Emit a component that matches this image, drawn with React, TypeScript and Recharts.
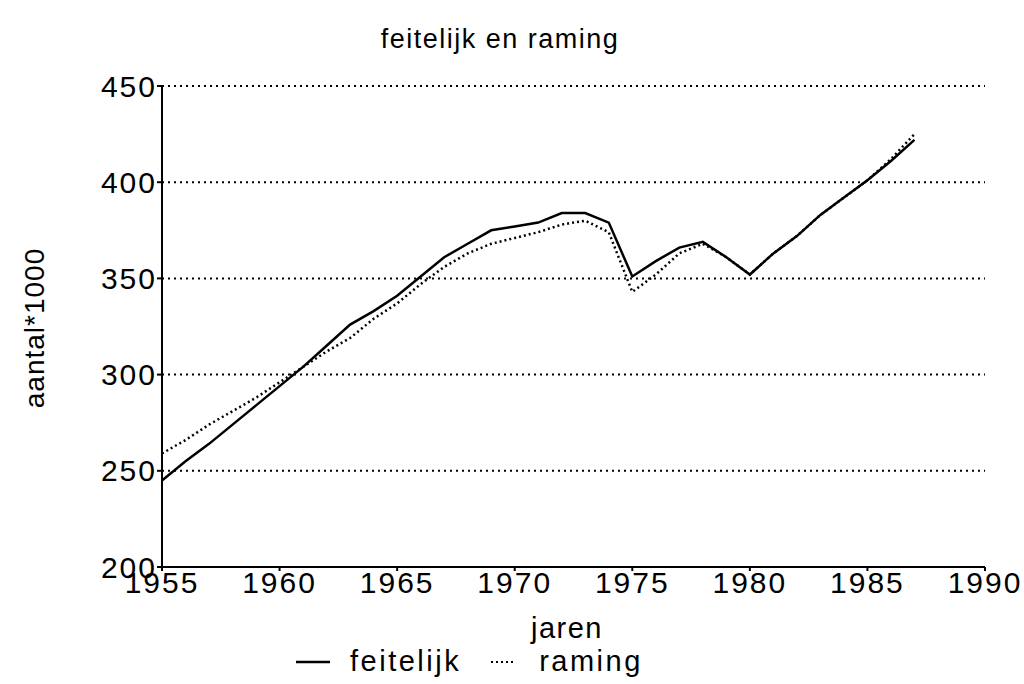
import { LineChart, Line, XAxis, YAxis, CartesianGrid } from 'recharts';

const years = [
	1955, 1956, 1957, 1958, 1959, 1960, 1961, 1962, 1963, 1964, 1965,
	1966, 1967, 1968, 1969, 1970, 1971, 1972, 1973, 1974, 1975, 1976,
	1977, 1978, 1979, 1980, 1981, 1982, 1983, 1984, 1985, 1986, 1987,
];

const feitelijk = [
	245, 255, 264, 274, 284, 294, 304, 315, 326, 333, 341,
	351, 361, 368, 375, 377, 379, 384, 384, 379, 351, 359,
	366, 369, 361, 352, 363, 372, 383, 392, 401, 411, 422,
];

const raming = [
	259, 266, 274, 281, 288, 296, 304, 312, 319, 329, 337,
	347, 356, 363, 368, 371, 374, 378, 380, 374, 343, 352,
	363, 368, 361, 352, 363, 372, 383, 392, 401, 412, 425,
];

const xTicks = [1955, 1960, 1965, 1970, 1975, 1980, 1985, 1990];
const yTicks = [200, 250, 300, 350, 400, 450];

const data = years.map((jaar, i) => ({
	jaar,
	feitelijk: feitelijk[i],
	raming: raming[i],
}));

const font = '"Liberation Sans", Arial, sans-serif';
const tickStyle = { fontSize: 30, fill: '#000', fontFamily: font, letterSpacing: 2 };

const App = () => {
	return (
		<div
			style={{
				position: 'absolute',
				left: 0,
				top: 0,
				width: 1024,
				height: 684,
				background: '#fff',
				fontFamily: font,
				color: '#000',
			}}
		>
			<div
				style={{
					position: 'absolute',
					left: 0,
					width: 1000,
					top: 24,
					textAlign: 'center',
					fontSize: 27,
					letterSpacing: 1.5,
				}}
			>
				feitelijk en raming
			</div>

			<LineChart
				width={1024}
				height={684}
				data={data}
				margin={{ top: 86, right: 39, bottom: 87, left: 0 }}
			>
				<CartesianGrid
					vertical={false}
					stroke="#000"
					strokeWidth={2}
					strokeDasharray="2 4"
				/>
				<XAxis
					dataKey="jaar"
					type="number"
					domain={[1955, 1990]}
					ticks={xTicks}
					interval={0}
					height={30}
					stroke="#000"
					strokeWidth={2}
					tickSize={4}
					tickMargin={1}
					tick={tickStyle}
				/>
				<YAxis
					type="number"
					domain={[200, 450]}
					ticks={yTicks}
					interval={0}
					width={162}
					stroke="#000"
					strokeWidth={2}
					tickSize={5}
					tickMargin={0}
					tick={tickStyle}
				/>
				<Line
					type="linear"
					dataKey="feitelijk"
					stroke="#000"
					strokeWidth={2.5}
					dot={false}
					isAnimationActive={false}
				/>
				<Line
					type="linear"
					dataKey="raming"
					stroke="#000"
					strokeWidth={2.5}
					strokeDasharray="2 3"
					dot={false}
					isAnimationActive={false}
				/>
			</LineChart>

			<div
				style={{
					position: 'absolute',
					left: 35 - 120,
					top: 330 - 18,
					width: 240,
					textAlign: 'center',
					fontSize: 28,
					letterSpacing: 1,
					transform: 'rotate(-90deg)',
				}}
			>
				aantal*1000
			</div>

			<div
				style={{
					position: 'absolute',
					left: 467,
					width: 200,
					top: 612,
					textAlign: 'center',
					fontSize: 29,
					letterSpacing: 1.5,
				}}
			>
				jaren
			</div>

			<div
				style={{
					position: 'absolute',
					left: 296,
					top: 645,
					display: 'flex',
					alignItems: 'center',
					fontSize: 29,
					letterSpacing: 2.5,
				}}
			>
				<svg width={36} height={10}>
					<line x1={0} y1={5} x2={34} y2={5} stroke="#000" strokeWidth={2.5} />
				</svg>
				<span style={{ marginLeft: 18 }}>feitelijk</span>
				<svg width={26} height={10} style={{ marginLeft: 30 }}>
					<line x1={0} y1={5} x2={24} y2={5} stroke="#000" strokeWidth={2} strokeDasharray="2 3" />
				</svg>
				<span style={{ marginLeft: 22 }}>raming</span>
			</div>
		</div>
	);
};

export default App;
